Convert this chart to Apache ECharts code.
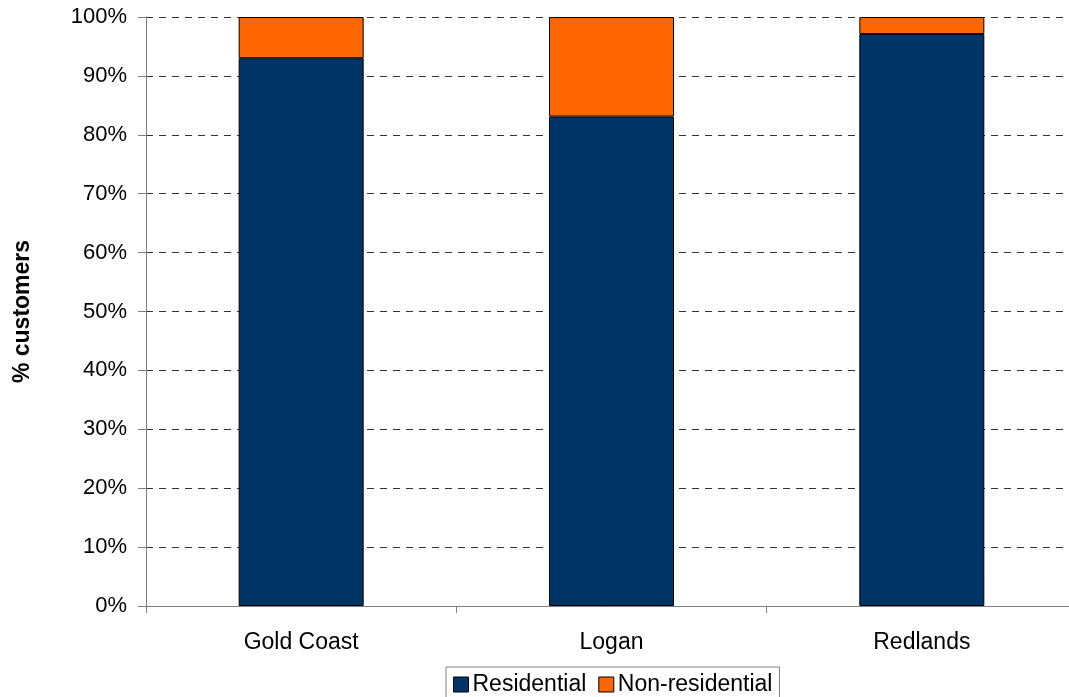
<!DOCTYPE html>
<html>
<head>
<meta charset="utf-8">
<script src="https://cdn.jsdelivr.net/npm/echarts@6/dist/echarts.min.js"></script>
<style>
  html, body { margin: 0; padding: 0; background: #fff; }
  #chart { width: 1069px; height: 697px; }
</style>
</head>
<body>
<div id="chart"></div>
<script>
// Customer mix by region (% of customers)
const categories = ['Gold Coast', 'Logan', 'Redlands'];
const residential = [93.0, 83.1, 97.1];
const nonResidential = [7.0, 16.9, 2.9];
const yTickValues = [0, 10, 20, 30, 40, 50, 60, 70, 80, 90, 100];

const chart = echarts.init(document.getElementById('chart'), null, { renderer: 'canvas' });
const font = 'Arial, "Liberation Sans", sans-serif';

chart.setOption({
  animation: false,
  backgroundColor: '#ffffff',
  textStyle: { fontFamily: font },
  grid: { left: 146, top: 17, width: 931, height: 589, containLabel: false, outerBoundsMode: 'none' },
  legend: {
    top: 667,
    left: 446,
    icon: 'rect',
    itemWidth: 15,
    itemHeight: 15,
    itemGap: 12,
    padding: [6, 7, 6, 7],
    borderColor: '#808080',
    borderWidth: 1,
    textStyle: { fontSize: 23, color: '#000', fontFamily: font, padding: [0, 0, 0, -1] },
    data: [
      { name: 'Residential', itemStyle: { borderColor: '#000', borderWidth: 1 } },
      { name: 'Non-residential', itemStyle: { borderColor: '#000', borderWidth: 1 } }
    ]
  },
  xAxis: {
    type: 'category',
    data: categories,
    axisLine: { lineStyle: { color: '#808080', width: 1 } },
    axisTick: { show: true, length: 7, lineStyle: { color: '#808080' } },
    axisLabel: { fontSize: 23, color: '#000', margin: 25, fontFamily: font },
    splitLine: { show: false }
  },
  yAxis: {
    type: 'value',
    min: 0,
    max: 100,
    interval: 10,
    name: '% customers',
    nameLocation: 'middle',
    nameGap: 112,
    nameRotate: 90,
    nameTextStyle: { fontSize: 23, fontWeight: 'bold', color: '#000', fontFamily: font },
    axisLine: { show: true, lineStyle: { color: '#808080', width: 1 } },
    axisTick: { show: true, length: 8, lineStyle: { color: '#808080' } },
    axisLabel: {
      fontSize: 22, color: '#000', margin: 19, fontFamily: font,
      formatter: v => yTickValues.includes(v) ? v + '%' : ''
    },
    splitLine: { show: true, lineStyle: { color: '#333', type: [7, 6], width: 1 } }
  },
  series: [
    {
      name: 'Residential',
      type: 'bar',
      stack: 'total',
      barWidth: 125,
      data: residential,
      itemStyle: { color: '#003366', borderColor: '#000', borderWidth: 1 }
    },
    {
      name: 'Non-residential',
      type: 'bar',
      stack: 'total',
      barWidth: 125,
      data: nonResidential,
      itemStyle: { color: '#FF6600', borderColor: '#000', borderWidth: 1 }
    }
  ]
});
</script>
</body>
</html>
